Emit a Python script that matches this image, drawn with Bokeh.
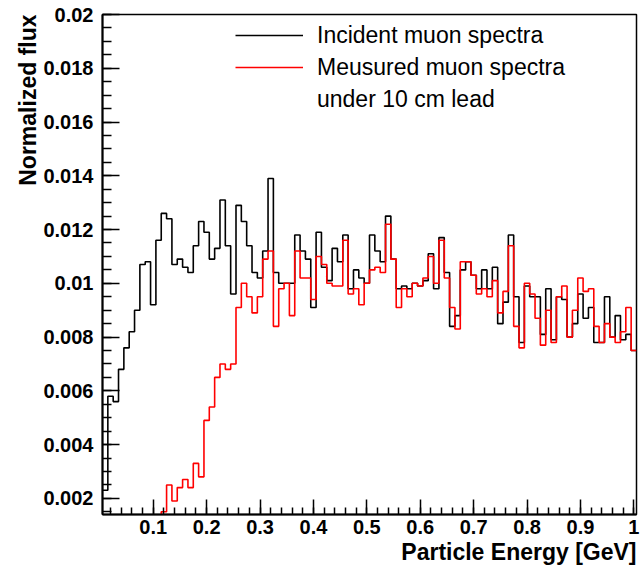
import numpy as np
from bokeh.plotting import figure
from bokeh.models import Range1d, FixedTicker, Legend, LegendItem, Title
from bokeh.embed import file_html
from bokeh.resources import INLINE

# ---------------- data ----------------
bin_start = 0.005
bin_width = 0.01

incident = [
    0.0023, 0.0058, 0.0056, 0.0068, 0.0076, 0.0082, 0.0090, 0.0107, 0.0108, 0.0092,
    0.0116, 0.0126, 0.0124, 0.0107, 0.0109, 0.0106, 0.0104, 0.0114, 0.0123, 0.0119,
    0.0109, 0.0113, 0.0131, 0.0114, 0.0096, 0.0129, 0.0123, 0.0114, 0.0104, 0.0102,
    0.0112, 0.0139, 0.0104, 0.0100, 0.0100, 0.0100, 0.0118, 0.0112, 0.0109, 0.0091,
    0.0119, 0.0106, 0.0101, 0.0113, 0.0108, 0.0118, 0.0098, 0.0105, 0.0102, 0.0100,
    0.0118, 0.0112, 0.0108, 0.0125, 0.0109, 0.0098, 0.0099, 0.0098, 0.0100, 0.0099,
    0.0101, 0.0111, 0.0098, 0.0117, 0.0104, 0.0084, 0.0088, 0.0105, 0.0108, 0.0103,
    0.0098, 0.0105, 0.0098, 0.0106, 0.0085, 0.0093, 0.0118, 0.0095, 0.0078, 0.0099,
    0.0095, 0.0095, 0.0081, 0.0098, 0.0079, 0.0095, 0.0094, 0.0080, 0.0085, 0.0096,
    0.0087, 0.0091, 0.0078, 0.0078, 0.0095, 0.0080, 0.0088, 0.0079, 0.0081, 0.0075,
]

measured = [
    0.0, 0.0, 0.0, 0.0, 0.0, 0.0, 0.0, 0.0, 0.0, 0.0,
    0.0, 0.0015, 0.0025, 0.0019, 0.0024, 0.0027, 0.0024, 0.0033, 0.0028, 0.0049,
    0.0054, 0.0065, 0.0070, 0.0068, 0.0070, 0.0091, 0.0100, 0.0095, 0.0089, 0.0095,
    0.0109, 0.0112, 0.0084, 0.0098, 0.0100, 0.0088, 0.0112, 0.0102, 0.0102, 0.0094,
    0.0110, 0.0107, 0.0100, 0.0099, 0.0099, 0.0116, 0.0096, 0.0098, 0.0092, 0.0100,
    0.0105, 0.0106, 0.0104, 0.0122, 0.0109, 0.0091, 0.0098, 0.0095, 0.0100, 0.0099,
    0.0102, 0.0110, 0.0100, 0.0116, 0.0102, 0.0091, 0.0083, 0.0108, 0.0108, 0.0103,
    0.0096, 0.0098, 0.0095, 0.0101, 0.0089, 0.0097, 0.0114, 0.0084, 0.0076, 0.0100,
    0.0096, 0.0087, 0.0077, 0.0090, 0.0078, 0.0095, 0.0099, 0.0080, 0.0090, 0.0102,
    0.0097, 0.0098, 0.0084, 0.0078, 0.0085, 0.0080, 0.0078, 0.0082, 0.0091, 0.0075,
]

x_ticks = [0.1, 0.2, 0.3, 0.4, 0.5, 0.6, 0.7, 0.8, 0.9, 1.0]
x_tick_labels = ["0.1", "0.2", "0.3", "0.4", "0.5", "0.6", "0.7", "0.8", "0.9", "1"]
y_ticks = [0.002, 0.004, 0.006, 0.008, 0.01, 0.012, 0.014, 0.016, 0.018, 0.02]
y_tick_labels = ["0.002", "0.004", "0.006", "0.008", "0.01", "0.012", "0.014",
                 "0.016", "0.018", "0.02"]

series_names = ["Incident muon spectra", "Meusured muon spectra", "under 10 cm lead"]
x_title = "Particle Energy [GeV]"
y_title = "Normalized flux"

x_lo, x_hi = 0.005, 1.005
y_lo, y_hi = 0.0014, 0.02

# ---------------- figure ----------------
p = figure(width=640, height=569, output_backend="svg", toolbar_location=None,
           x_range=Range1d(x_lo, x_hi), y_range=Range1d(y_lo, y_hi),
           min_border_left=102, min_border_right=4, min_border_top=14,
           min_border_bottom=55)
p.background_fill_color = "white"
p.border_fill_color = "white"
p.outline_line_color = "black"
p.outline_line_width = 1.5
p.xgrid.visible = False
p.ygrid.visible = False

n = len(incident)
edges = bin_start + bin_width * np.arange(n + 1)
inc_y = np.append(incident, incident[-1])
mea_y = np.append(measured, measured[-1])

r_inc = p.step(edges, inc_y, mode="after", line_color="black", line_width=1.6)
r_mea = p.step(edges, mea_y, mode="after", line_color="#ff0000", line_width=1.6)
r_dummy = p.line(x=[], y=[], line_alpha=0)

# axes
minor_x = [round(0.02 * i, 2) for i in range(1, 51)]
minor_y = [round(0.0015 + 0.0005 * i, 4) for i in range(0, 38)]
xax = p.xaxis[0]
yax = p.yaxis[0]
xax.ticker = FixedTicker(ticks=x_ticks, minor_ticks=minor_x)
yax.ticker = FixedTicker(ticks=y_ticks, minor_ticks=minor_y)
xax.major_label_overrides = dict(zip(x_ticks, x_tick_labels))
yax.major_label_overrides = dict(zip(y_ticks, y_tick_labels))

for ax, tin, mtin in ((xax, 15, 7), (yax, 17, 9)):
    ax.axis_line_width = 2
    ax.axis_line_color = "#000000"
    ax.major_tick_in = tin
    ax.major_tick_out = 0
    ax.minor_tick_in = mtin
    ax.minor_tick_out = 0
    ax.major_tick_line_width = 1.5
    ax.minor_tick_line_width = 1.5
    ax.major_tick_line_color = "#000000"
    ax.minor_tick_line_color = "#000000"
    ax.major_label_text_font = "Liberation Sans"
    ax.major_label_text_font_style = "bold"
    ax.major_label_text_font_size = "20px"
    ax.major_label_text_color = "#000000"
xax.major_label_standoff = 5
yax.major_label_standoff = 9

use_titles = False
try:
    xax.axis_label_align = "right"
    yax.axis_label_align = "right"
except Exception:
    use_titles = True

if not use_titles:
    xax.axis_label = x_title
    yax.axis_label = y_title
    for ax in (xax, yax):
        ax.axis_label_text_font = "Liberation Sans"
        ax.axis_label_text_font_style = "bold"
        ax.axis_label_text_font_size = "23px"
        ax.axis_label_text_color = "#000000"
        ax.axis_label_text_alpha = 1.0
    xax.axis_label_standoff = -12
    yax.axis_label_standoff = 6
else:
    p.add_layout(Title(text=x_title, align="right", text_font="Liberation Sans",
                       text_font_style="bold", text_font_size="23px",
                       text_color="#000000", standoff=0, offset=0), "below")
    p.add_layout(Title(text=y_title, align="right", text_font="Liberation Sans",
                       text_font_style="bold", text_font_size="23px",
                       text_color="#000000", standoff=0, offset=0), "left")

legend = Legend(items=[LegendItem(label=series_names[0], renderers=[r_inc]),
                       LegendItem(label=series_names[1], renderers=[r_mea]),
                       LegendItem(label=series_names[2], renderers=[r_dummy])],
                location=(133, 399), orientation="vertical")
legend.border_line_alpha = 0
legend.background_fill_alpha = 0
legend.padding = 0
legend.margin = 0
legend.spacing = 0
legend.glyph_width = 68
legend.glyph_height = 32
legend.label_height = 32
legend.label_standoff = 14
legend.label_text_font = "Liberation Sans"
legend.label_text_font_size = "23px"
legend.label_text_color = "#000000"
p.add_layout(legend)

open("out.html", "w").write(file_html(p, INLINE))
